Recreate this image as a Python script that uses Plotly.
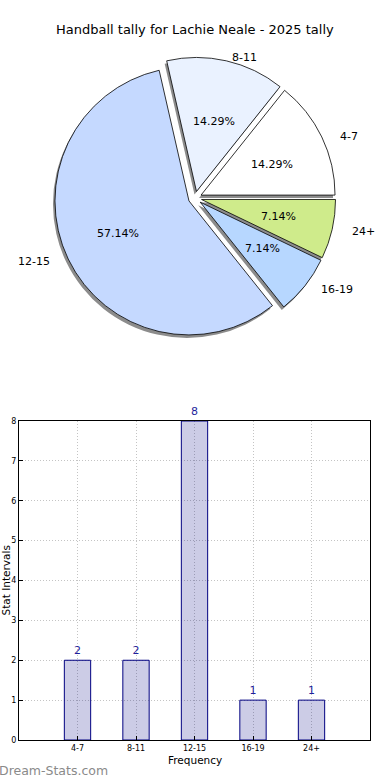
import numpy as np
import plotly.graph_objects as go

# ---- data ----
categories = ["4-7", "8-11", "12-15", "16-19", "24+"]
counts = [2, 2, 8, 1, 1]
slice_colors = ["#ffffff", "#eaf2ff", "#c5d9ff", "#b7d7ff", "#cfeb8b"]
title_text = "Handball tally for Lachie Neale - 2025 tally"
y_ticks = list(range(0, 9))

# ---- layout constants ----
W, H = 390, 780
FONT = "DejaVu Sans"
cx, cy = 195, 198          # pie centre in px (from top-left)
R = 134                    # pie radius in px
PULL = 0.05
half = R * (1 + PULL)
total = float(sum(counts))
# first slice starts at 3 o'clock and runs counter-clockwise
ROT = 90 - 360 * counts[0] / total


def dom(x0, x1, y0, y1):
    """px box (top-left origin) -> paper domain"""
    return dict(x=[x0 / W, x1 / W], y=[1 - y1 / H, 1 - y0 / H])


fig = go.Figure()

# shadow pie
sx, sy = -2, 3
fig.add_trace(go.Pie(
    values=counts, labels=categories, sort=False, direction="counterclockwise",
    rotation=ROT, pull=[PULL] * len(counts), textinfo="none", hoverinfo="skip",
    marker=dict(colors=["#8c8c8c"] * len(counts), line=dict(width=0)),
    domain=dom(cx - half + sx, cx + half + sx, cy - half + sy, cy + half + sy),
    showlegend=False,
))
# main pie
fig.add_trace(go.Pie(
    values=counts, labels=categories, sort=False, direction="counterclockwise",
    rotation=ROT, pull=[PULL] * len(counts), textinfo="none",
    marker=dict(colors=slice_colors, line=dict(color="#000000", width=0.8)),
    domain=dom(cx - half, cx + half, cy - half, cy + half),
    showlegend=False,
))

annotations = []
cum = 0.0
for lab, v in zip(categories, counts):
    frac = v / total
    ang = np.deg2rad(360 * (cum + frac / 2))
    cum += frac
    c, s = np.cos(ang), np.sin(ang)
    # outer label
    lx, ly = 195 + 159 * c, 199 - 145 * s
    annotations.append(dict(
        x=lx / W, y=1 - ly / H, xref="paper", yref="paper", text=lab,
        showarrow=False, xanchor="left" if c > 0 else "right", yanchor="middle",
        font=dict(family=FONT, size=11, color="#000000")))
    # percentage
    px_, py_ = 195 + 86 * c, 199 - 80 * s
    annotations.append(dict(
        x=px_ / W, y=1 - py_ / H, xref="paper", yref="paper",
        text=f"{frac * 100:.2f}%", showarrow=False,
        xanchor="center", yanchor="middle",
        font=dict(family=FONT, size=11, color="#000000")))

# ---- bar chart ----
fig.add_trace(go.Bar(
    x=categories, y=counts, width=0.45,
    marker=dict(color="rgba(0,0,128,0.2)", line=dict(color="#000080", width=1)),
    text=[str(v) for v in counts], textposition="outside", cliponaxis=False,
    textfont=dict(family=FONT, size=11, color="#1f1f9c"),
    xaxis="x", yaxis="y", showlegend=False,
))

bx0, bx1, by0, by1 = 19, 370, 421, 740
axis_common = dict(
    showline=True, mirror=True, linecolor="#000000", linewidth=1,
    showgrid=True, gridcolor="#c4c4c4", griddash="1px,2px", gridwidth=1,
    ticks="inside", ticklen=4, tickcolor="#000000", zeroline=False,
    automargin=False,
    tickfont=dict(family=FONT, size=8, color="#000000"),
)
fig.update_layout(
    xaxis=dict(domain=[bx0 / W, bx1 / W], range=[-1, 5], anchor="y",
               type="category", **axis_common),
    yaxis=dict(domain=[1 - by1 / H, 1 - by0 / H], range=[0, 8], anchor="x",
               tickvals=y_ticks, **axis_common),
)

annotations += [
    dict(x=0.5, y=1 - 30 / H, xref="paper", yref="paper", text=title_text,
         showarrow=False, xanchor="center", yanchor="middle",
         font=dict(family=FONT, size=13, color="#000000")),
    dict(x=(bx0 + bx1) / 2 / W, y=1 - 760 / H, xref="paper", yref="paper",
         text="Frequency", showarrow=False, xanchor="center", yanchor="middle",
         font=dict(family=FONT, size=10.5, color="#000000")),
    dict(x=-3 / W, y=1 - ((by0 + by1) / 2) / H, xref="paper", yref="paper",
         text="Stat Intervals", textangle=-90, showarrow=False,
         xanchor="left", yanchor="middle",
         font=dict(family=FONT, size=10.5, color="#000000")),
    dict(x=-3 / W, y=1 - 770 / H, xref="paper", yref="paper",
         text="Dream-Stats.com", showarrow=False,
         xanchor="left", yanchor="middle",
         font=dict(family=FONT, size=12.5, color="#8a8a8a")),
]

fig.update_layout(
    width=W, height=H, margin=dict(l=0, r=0, t=0, b=0, autoexpand=False),
    paper_bgcolor="#ffffff", plot_bgcolor="#ffffff",
    annotations=annotations, font=dict(family=FONT),
)

fig.write_html(
    "out.html",
    config={"displayModeBar": False},
    post_script="document.body.style.margin='0px';document.body.style.padding='0px';",
)
